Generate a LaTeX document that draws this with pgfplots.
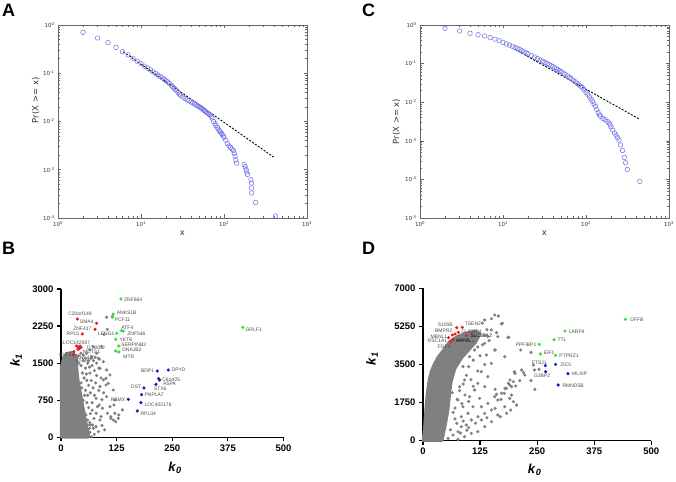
\documentclass[border=0pt]{standalone}
\usepackage{fontspec}
\setmainfont{Liberation Sans}
\newfontfamily\dejavu{DejaVu Sans}
\usepackage{pgfplots}
\pgfplotsset{compat=1.18}
\definecolor{ccdfblue}{RGB}{110,110,230}
\definecolor{ptgray}{RGB}{128,128,128}
\definecolor{ptgreen}{RGB}{55,220,55}
\definecolor{ptred}{RGB}{230,30,30}
\definecolor{ptblue}{RGB}{20,20,200}
\tikzset{
  lbl/.style={font=\fontsize{5}{5}\selectfont, text=black!70, inner sep=0.6pt},
  panel/.style={font=\bfseries\fontsize{18}{18}\selectfont, inner sep=0, anchor=north west},
}
\pgfplotsset{
  ccdf/.style={scale only axis, width=249pt, height=193pt,
    xmin=1, xmax=1000, clip=false,
    axis line style={draw=black!60, line width=0.6pt},
    tick style={black!60, line width=0.5pt},
    major tick length=3.5pt, minor tick length=2pt, tick align=inside,
    xtick={1,10,100,1000},
    xticklabels={10\textsuperscript{0},10\textsuperscript{1},10\textsuperscript{2},10\textsuperscript{3}},
    minor xtick={2,3,4,5,6,7,8,9,20,30,40,50,60,70,80,90,200,300,400,500,600,700,800,900},
    tick label style={font=\dejavu\fontsize{5.5}{6}\selectfont, text=black!80},
    xlabel={x}, ylabel={Pr(X >= x)},
    label style={font=\dejavu\fontsize{8.5}{9}\selectfont, text=black!80},
    xlabel style={at={(axis description cs:0.5,-0.078)}, anchor=center},
  },
  scat/.style={scale only axis, axis lines=left, clip=false,
    axis line style={-, line width=1.4pt},
    tick style={black, line width=1.2pt},
    tick align=outside, major tick length=4pt,
    xtick pos=left, ytick pos=left,
    xmin=0, xmax=500, ymin=0,
    xtick={0,125,250,375,500},
    tick label style={font=\bfseries\fontsize{9.5}{10}\selectfont},
    /pgf/number format/assume math mode=true,
    /pgf/number format/1000 sep={},
    xlabel={\textit{k}\textsubscript{\textit{0}}},
    ylabel={\textit{k}\textsubscript{\textit{1}}},
    label style={font=\bfseries\fontsize{13}{13}\selectfont},
  },
  graypts/.style={only marks, mark=*, mark size=1.4pt, color=ptgray},
  grayfill/.style={fill=ptgray, draw=ptgray, line width=2.5pt, line join=round},
  colpts/.style={only marks, mark=*, mark size=1.4pt, color=#1},
}
\begin{document}
\begin{tikzpicture}
\useasboundingbox (0,0) rectangle (676pt,481pt);

% ---------------- Panel A ----------------
\begin{loglogaxis}[ccdf, at={(58pt,263pt)}, anchor=south west, ymin=1e-4, ymax=1,
  ytick={1e-4,1e-3,1e-2,1e-1,1},
  yticklabels={10\textsuperscript{-4},10\textsuperscript{-3},10\textsuperscript{-2},10\textsuperscript{-1},10\textsuperscript{0}},
  minor ytick={2e-4,3e-4,4e-4,5e-4,6e-4,7e-4,8e-4,9e-4,2e-3,3e-3,4e-3,5e-3,6e-3,7e-3,8e-3,9e-3,2e-2,3e-2,4e-2,5e-2,6e-2,7e-2,8e-2,9e-2,0.2,0.3,0.4,0.5,0.6,0.7,0.8,0.9},
  ylabel style={at={(axis description cs:-0.09,0.61)}, anchor=center}]
\addplot[only marks, mark=o, mark size=2.3pt, color=ccdfblue, mark options={line width=0.5pt}] coordinates {
(2,0.705) (3,0.538) (4,0.43) (5,0.345) (6,0.28) (7,0.24) (8,0.204) (9,0.178)
(10,0.158) (11,0.140) (12,0.128) (13,0.117) (14,0.107) (15,0.099) (16,0.092)
(17,0.086) (18,0.080) (19,0.075) (20,0.070) (21,0.066) (22,0.061) (23,0.057)
(24,0.053) (25,0.049) (26,0.046) (27,0.043) (28,0.040) (29,0.037) (30,0.035)
(32,0.032) (34,0.030) (36,0.028) (38,0.027) (40,0.0255) (42,0.0243) (44,0.0232)
(46,0.0222) (48,0.0212) (50,0.0203) (52,0.0195) (54,0.0186) (56,0.0177) (58,0.0168)
(60,0.0160) (62,0.0153) (64,0.0147) (66,0.0141) (68,0.0137) (70,0.0128) (72,0.0118)
(75,0.0100) (78,0.0090) (80,0.0082) (83,0.0076) (85,0.0070) (88,0.0065) (90,0.0061)
(93,0.0057) (95,0.0054) (98,0.0050) (100,0.0047) (105,0.0041) (110,0.0035)
(115,0.0031) (120,0.0029) (125,0.0027) (130,0.0025) (133,0.0022) (136,0.0019)
(139,0.0016) (142,0.00137) (175,0.00128) (180,0.00115) (185,0.001) (188,0.0009)
(192,0.0008) (211,0.00062) (214,0.00053) (215,0.00042) (216,0.00033) (240,0.00021)
(416,0.00011)
};
\addplot[black, dashed, line width=0.9pt, dash pattern=on 2pt off 1.5pt] coordinates {(6.1,0.28) (396,0.00183)};
\end{loglogaxis}

% ---------------- Panel C ----------------
\begin{loglogaxis}[ccdf, at={(420pt,263pt)}, anchor=south west, ymin=1e-5, ymax=1,
  ytick={1e-5,1e-4,1e-3,1e-2,1e-1,1},
  yticklabels={10\textsuperscript{-5},10\textsuperscript{-4},10\textsuperscript{-3},10\textsuperscript{-2},10\textsuperscript{-1},10\textsuperscript{0}},
  minor ytick={2e-5,3e-5,4e-5,5e-5,6e-5,7e-5,8e-5,9e-5,2e-4,3e-4,4e-4,5e-4,6e-4,7e-4,8e-4,9e-4,2e-3,3e-3,4e-3,5e-3,6e-3,7e-3,8e-3,9e-3,2e-2,3e-2,4e-2,5e-2,6e-2,7e-2,8e-2,9e-2,0.2,0.3,0.4,0.5,0.6,0.7,0.8,0.9},
  ylabel style={at={(axis description cs:-0.095,0.5)}, anchor=center}]
\addplot[only marks, mark=o, mark size=2.3pt, color=ccdfblue, mark options={line width=0.5pt}] coordinates {
(2,0.82) (3,0.70) (4,0.61) (5,0.56) (6,0.52) (7,0.47) (8,0.43) (9,0.39) (10,0.355)
(11,0.325) (12,0.30) (13,0.28) (14,0.26) (15,0.245) (16,0.23) (17,0.215) (18,0.200)
(19,0.19) (20,0.18) (22,0.162) (24,0.147) (26,0.135) (28,0.124) (30,0.115) (32,0.107)
(34,0.100) (36,0.094) (38,0.088) (40,0.083) (42,0.078) (44,0.073) (46,0.069) (48,0.065)
(50,0.062) (53,0.057) (56,0.053) (60,0.048) (63,0.044) (66,0.041) (70,0.037) (74,0.034)
(78,0.031) (82,0.028) (86,0.026) (90,0.024) (95,0.021) (100,0.018) (105,0.016)
(110,0.0138) (115,0.012) (120,0.0105) (125,0.009) (130,0.0078) (135,0.0065)
(140,0.0054) (145,0.0047) (150,0.0043) (160,0.0038) (170,0.0035) (180,0.0032)
(190,0.0029) (195,0.0026) (200,0.0023) (210,0.0019) (220,0.0016) (230,0.0014)
(240,0.0012) (250,0.00105) (260,0.00078) (275,0.00056) (290,0.00037) (300,0.00027)
(315,0.00018) (445,0.000089)
};
\addplot[black, dashed, line width=0.9pt, dash pattern=on 2pt off 1.5pt] coordinates {(13.9,0.235) (444,0.0036)};
\end{loglogaxis}

% ---------------- Panel B ----------------
\begin{axis}[scat, at={(61pt,43.7pt)}, anchor=south west, width=222.5pt, height=148.3pt,
  ymax=3000, ytick={0,750,1500,2250,3000},
  xlabel style={at={(axis description cs:0.512,-0.205)}, anchor=center},
  ylabel style={at={(axis description cs:-0.202,0.52)}, anchor=center}]
\addplot[grayfill] coordinates {(0,0) (0,1400) (5,1600) (12,1700) (25,1720) (35,1650)
 (36,1400) (38,1200) (42,1000) (46,800) (50,600) (54,400) (58,200) (62,50) (62,0)} -- cycle;
\addplot[graypts] coordinates {
(102.5,2428) (104,2184) (96.6,2083) (91.3,1834) (72.6,1834) (65,1766) (80,1699) (57.6,1699)
(50,1665) (69,1631) (40,1500) (45,1450) (50,1550) (55,1400) (60,1500) (48,1300) (52,1200)
(58,1150) (65,1300) (70,1450) (75,1350) (80,1250) (62,1050) (68,1150) (72,1000) (55,950)
(60,850) (66,900) (50,750) (58,700) (62,600) (70,700) (75,850) (85,950) (45,1700) (40,1650)
(35,1600) (55,1600) (62,1550) (68,1600) (80,1500) (85,1400) (78,1100) (90,1200) (52,500)
(56,450) (60,350) (66,250) (48,100) (52,30) (45,1100) (40,900) (73,1550) (77,1620) (86,1580)
(64,1420) (57,1280) (47,1000) (53,850) (44,600) (47,400) (55,300) (60,150) (65,100)
(101,1193) (101,1058) (78.7,789) (86,654) (93,587) (104.5,486) (112,385) (123,316) (130,452)
(138,553) (119,654) (112,418) (79,486) (90,418) (71,250) (60,250) (64,182) (55,115) (78.7,216)
(87.6,1395) (95,1530) (84,1598) (102.5,1362) (110,1261) (95,1160) (106,1092) (87.6,1025)
(117.5,957) (102.5,822) (121,755) (110,620) (121,485) (128.7,384) (117.5,350) (87.6,350)
(65,297) (54,216) (72.6,182) (84,115) (57.6,81) (69,13) (75,60) (92,240) (98,150)
(70,550) (82,620) (66,480) (74,380) (96,900) (92,760)
};
\addplot[colpts=ptgreen] coordinates {(134.7,2798) (117.5,2494) (116,2454) (115.3,2427)
 (136,2157) (140,2150) (125,2103) (122.8,1982) (130,1847) (122.8,1746) (130,1726) (408.7,2225)};
\addplot[colpts=ptred] coordinates {(36.7,2393) (80,2306) (76.3,2184) (47.9,2090) (35,1847)
 (39.7,1820) (42.7,1847) (41,1793) (38,1780) (45,1820) (29,1733) (27.7,1665)};
\addplot[colpts=ptblue] coordinates {(216.3,1342) (241,1362) (219.3,1187) (221.6,1160)
 (213.3,1072) (186.4,998) (181,863) (151.2,768) (179.6,701) (171.4,533)};
\node[lbl, anchor=west] at (axis cs:140,2778) {ZNF664};
\node[lbl, anchor=west] at (axis cs:123.5,2521) {ANKS1B};
\node[lbl, anchor=west] at (axis cs:119,2373) {PCF11};
\node[lbl, anchor=west] at (axis cs:134,2225) {ATF4};
\node[lbl, anchor=west] at (axis cs:147.5,2090) {ZNF546};
\node[lbl, anchor=east] at (axis cs:122,2097) {LENG1};
\node[lbl, anchor=west] at (axis cs:130,1982) {YKT6};
\node[lbl, anchor=west] at (axis cs:134,1881) {SERPINB2};
\node[lbl, anchor=west] at (axis cs:136,1766) {DNAJB2};
\node[lbl, anchor=west] at (axis cs:138.5,1631) {MTR};
\node[lbl, anchor=west] at (axis cs:413,2171) {GRLF1};
\node[lbl] at (axis cs:42.7,2494) {C20orf149};
\node[lbl, anchor=east] at (axis cs:75,2339) {SMA4};
\node[lbl, anchor=east] at (axis cs:70,2191) {ZNF417};
\node[lbl, anchor=east] at (axis cs:42.7,2090) {RPL5};
\node[lbl, anchor=west] at (axis cs:3,1915) {LOC142937};
\node[lbl, anchor=west] at (axis cs:57,1820) {DTWD2};
\node[lbl, anchor=west] at (axis cs:48,1726) {MCTS1};
\node[lbl, anchor=east] at (axis cs:25,1665) {ELF2};
\node[lbl, anchor=west] at (axis cs:33.7,1618) {ZNF420};
\node[lbl, anchor=west] at (axis cs:31,1540) {ATXN7};
\node[lbl, anchor=east] at (axis cs:211,1342) {BDP1};
\node[lbl, anchor=west] at (axis cs:247,1362) {DPYD};
\node[lbl, anchor=west] at (axis cs:226,1173) {C6orf25};
\node[lbl, anchor=west] at (axis cs:227.5,1079) {ASPA};
\node[lbl, anchor=west] at (axis cs:207,978) {STX6};
\node[lbl, anchor=east] at (axis cs:182,1025) {DST};
\node[lbl, anchor=west] at (axis cs:186,856) {PNPLA7};
\node[lbl, anchor=east] at (axis cs:146,755) {RBMX};
\node[lbl, anchor=west] at (axis cs:186,667) {LOC402176};
\node[lbl, anchor=west] at (axis cs:177,485) {RPL34};
\end{axis}

% ---------------- Panel D ----------------
\begin{axis}[scat, at={(423pt,40.3pt)}, anchor=south west, width=228.3pt, height=152.4pt,
  ymax=7000, ytick={0,1750,3500,5250,7000},
  xlabel style={at={(axis description cs:0.489,-0.192)}, anchor=center},
  ylabel style={at={(axis description cs:-0.223,0.536)}, anchor=center}]
\addplot[grayfill] coordinates {(0,0) (3,600) (6,1500) (9,2200) (13,2800) (18,3200) (25,3550)
 (33,3850) (44,4150) (58,4550) (75,4800) (95,4950) (115,5050) (125,4900) (115,4500) (100,4150)
 (85,3800) (70,3300) (62,2700) (58,2000) (55,1400) (50,800) (45,300) (42,0)} -- cycle;
\addplot[graypts] coordinates {
(130,5400) (150,5600) (165,5728) (174,5392) (161,4962) (188,4748) (158,4166) (140,5100)
(135,4850) (145,4600) (130,4400) (120,4300) (125,3900) (110,3700) (135,3500) (100,3400)
(120,3200) (95,3000) (105,2800) (88,2600) (110,2500) (80,2300) (92,2100) (75,1900) (85,1700)
(70,1500) (100,1800) (65.7,260) (76.6,413) (84,643) (95,720) (106,950) (120.4,1103)
(135,1256) (150,1409) (128,1562) (142,1715) (157,2022) (164,1868) (135,643) (120,413)
(150,873) (164,1180) (106,337) (91,184) (76.6,61) (179,1562) (172,2175) (186.9,2635)
(194,2482) (179.6,2405) (190.5,2788) (201.5,3094) (135,5545) (157,5774) (171.5,5361)
(149.6,5085) (142,4779) (135,4472) (164,4779) (186,4748) (157,4166) (179,3860) (138.7,3936)
(149.6,3553) (127.7,3170) (142,2941) (120,2634) (113,2328) (135,2481) (102,2022) (124,1945)
(109.5,1562) (98.5,1256) (84,1103) (87.6,1562) (76.6,1868) (80,2481) (91,2788) (87.6,3400)
(102,3860) (113,4166) (106,4626) (236.5,4059) (241.6,3477) (244,3247) (254,3278) (200,3170)
(216,3247) (220,3130) (223,3017) (236.5,2757) (212,2757) (198,2711) (190,2558) (203,2512)
(183,2405) (178,2175) (194,2098) (190,1945) (198,1792) (205,1639) (171,1899) (158,2359)
(161,2129) (245,2359) (158,1486) (169,1103) (183,1256) (192,1409) (214,4166) (66,3600)
(72,3900) (78,4200) (90,4500) (68,4300) (60,3200) (64,2200) (70,1000) (60,500) (55,100)
(66,1300) (74,800) (88,900) (100,600) (115,800) (128,950) (140,1050) (82,350) (96,480)
};
\addplot[colpts=ptgreen] coordinates {(443,5575) (311,5039) (287,4641) (254.7,4426) (257,3982) (290.5,3921)};
\addplot[colpts=ptblue] coordinates {(268,3446) (290.5,3507) (268.6,3170) (317.5,3079) (296,2558)};
\addplot[colpts=ptred] coordinates {(73.7,5192) (86,5207) (77.4,4978) (70,4901) (64,4855)
 (56,4733) (65.7,4656) (60.6,4549) (95,4825)};
\node[lbl, anchor=west] at (axis cs:452.5,5545) {DFFB};
\node[lbl, anchor=west] at (axis cs:317.5,5008) {LARP4};
\node[lbl, anchor=west] at (axis cs:293,4626) {TTL};
\node[lbl, anchor=east] at (axis cs:250,4426) {PPFIBP1};
\node[lbl, anchor=west] at (axis cs:262.8,4043) {EIF1};
\node[lbl, anchor=west] at (axis cs:297,3890) {PTPRZ1};
\node[lbl] at (axis cs:254.7,3600) {FTSJ1};
\node[lbl, anchor=west] at (axis cs:299,3492) {ZIC5};
\node[lbl] at (axis cs:260.6,2971) {G3BP2};
\node[lbl, anchor=west] at (axis cs:325,3063) {MLXIP};
\node[lbl, anchor=west] at (axis cs:304,2542) {RMND5B};
\node[lbl, anchor=east] at (axis cs:67,5315) {S100B};
\node[lbl, anchor=west] at (axis cs:89.8,5360) {TSEN2};
\node[lbl, anchor=east] at (axis cs:66,5040) {BMPR2};
\node[lbl, anchor=west] at (axis cs:82.5,5008) {GUSBP4};
\node[lbl, anchor=east] at (axis cs:54.7,4779) {MBNL1};
\node[lbl, anchor=west, text=black] at (axis cs:102,4825) {SLC38A2};
\node[lbl, anchor=east] at (axis cs:54.7,4580) {RSC1A1};
\node[lbl, anchor=west, text=black] at (axis cs:70,4600) {AMNSA};
\node[lbl] at (axis cs:46,4319) {FGF1};
\end{axis}

\node[panel] at (2pt,477pt) {A};
\node[panel] at (2pt,239pt) {B};
\node[panel] at (362pt,477pt) {C};
\node[panel] at (362pt,239pt) {D};
\end{tikzpicture}
\end{document}
